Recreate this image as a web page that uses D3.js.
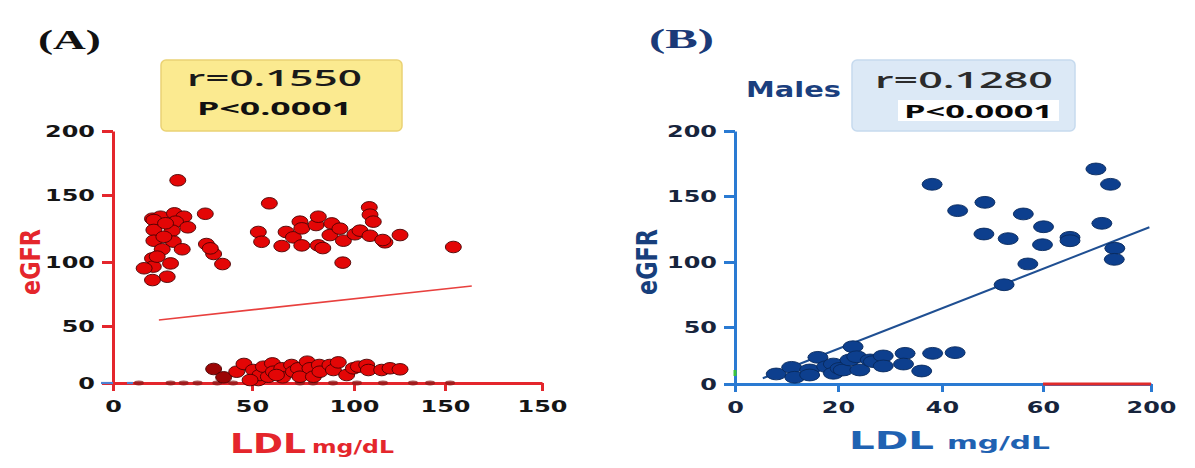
<!DOCTYPE html>
<html>
<head>
<meta charset="utf-8">
<script src="https://cdn.jsdelivr.net/npm/d3@7"></script>
<style>
  html, body { margin: 0; padding: 0; background: #ffffff; }
  svg { display: block; }
</style>
</head>
<body>
<svg id="chart" width="1195" height="468"></svg>
<script>
// ---------- data ----------
// Panel A: all subjects (LDL vs eGFR)
const yTicks = [0, 50, 100, 150, 200];
const yTickLabels = ["0", "50", "100", "150", "200"];

const xTicksA = [0, 50, 100, 150, 200];
const xTickLabelsA = ["0", "50", "100", "150", "150"];

const ldlA = [
  23.3, 14.2, 17.1, 22.1, 25.5, 14.7, 22.5, 26.9, 14.7, 21.3, 14.7, 21.7, 24.9, 17.7,
  14.2, 20.7, 14.5, 11.2, 19.5, 14.2, 18.3, 18.9, 15.9, 33.2, 33.6, 36.2, 39.4, 35.0,
  58.5, 53.1, 54.7, 64.6, 66.7, 70.3, 73.5, 74.4, 74.4, 81.4, 82.5, 82.5, 84.7, 89.1,
  88.2, 93.1, 94.8, 94.5, 100.5, 103.3, 108.4, 108.8, 110.6, 108.8, 117.0, 115.8, 125.3, 154.3
];
const egfrA = [
  161.5, 132.3, 133.8, 136.3, 133.8, 131.3, 130.1, 125.9, 123.9, 123.4, 115.9, 115.2, 109.5, 109.5,
  102.7, 98.9, 96.4, 95.1, 88.5, 85.9, 118.8, 128.9, 104.0, 136.0, 113.4, 106.0, 98.4, 110.2,
  143.8, 122.4, 115.1, 111.9, 122.4, 118.4, 130.1, 125.1, 112.4, 127.6, 133.8, 112.4, 110.4, 128.8,
  120.1, 124.9, 115.9, 99.5, 120.7, 123.4, 140.8, 135.3, 130.1, 119.6, 114.7, 116.4, 120.1, 111.2
];

// low-eGFR group of panel A
const ldlLowA = [
  36.2, 39.8, 44.5, 47.1, 50.7, 53.1, 53.9, 55.6, 58.0, 60.0, 60.5, 64.6, 65.0, 69.4, 70.3,
  72.7, 73.5, 77.1, 78.4, 80.1, 83.0, 83.3, 88.2, 89.9, 92.3, 96.4, 99.7, 102.4, 107.0,
  107.9, 115.2, 119.8, 125.3, 49.3, 62.0
];
const egfrLowA = [
  12.3, 5.0, 9.9, 16.7, 11.4, 2.6, 7.0, 14.3, 5.5, 17.2, 9.9, 12.9, 5.0, 15.8, 9.9,
  12.9, 5.5, 18.7, 12.9, 5.5, 15.8, 9.9, 15.8, 11.4, 18.1, 7.0, 12.9, 14.3, 15.8,
  11.4, 11.4, 12.9, 12.0, 2.6, 7.0
];
const darkLowA = [true, true];   // first two points of the low group are drawn darker

// points sitting on the baseline (eGFR = 0)
const ldlZeroA = [9.3, 20.7, 25.4, 30.4, 37.5, 43.2, 73.5, 79.9, 89.7, 101.6, 115.9, 132.4, 141.8, 152.6];

// fitted line, panel A
const fitA = [{ x: 16.5, y: 54.7 }, { x: 163.8, y: 81.3 }];

// Panel B: males
const xTicksB = [0, 20, 40, 60, 80];
const xTickLabelsB = ["0", "20", "40", "60", "200"];

const ldlB = [
  69.8, 72.5, 38.1, 43.1, 48.5, 56.1, 60.1, 70.9, 48.3, 53.1, 65.0, 65.0, 59.9, 73.3, 73.2, 57.0, 52.3,
  8.0, 11.0, 11.6, 14.5, 14.5, 16.1, 17.8, 19.1, 19.1, 20.4, 21.0, 22.3, 22.9, 23.6, 24.2,
  26.2, 26.8, 28.7, 28.7, 32.9, 32.6, 36.1, 38.2, 42.6
];
const egfrB = [
  170.8, 159.0, 159.0, 138.9, 145.2, 136.4, 126.7, 129.3, 121.2, 117.7, 118.7, 116.1, 113.1, 110.4, 102.0, 98.5, 82.5,
  8.8, 14.6, 5.9, 12.3, 7.9, 23.4, 15.2, 17.5, 9.4, 13.7, 12.3, 21.1, 32.7, 23.9, 12.3,
  21.1, 19.6, 24.6, 15.8, 26.9, 17.5, 11.4, 26.9, 27.5
];

// fitted line, panel B
const fitB = [{ x: 5.4, y: 5.0 }, { x: 79.7, y: 126.3 }];

const statsA = { r: "r=0.1550", p: "P<0.0001" };
const statsB = { r: "r=0.1280", p: "P<0.0001", group: "Males" };

// ---------- drawing ----------
const svg = d3.select("#chart");
const SANS = "'DejaVu Sans', Verdana, sans-serif";
const UI = "'Open Sans', 'Noto Sans', sans-serif";

// text stretched horizontally so that it spans a given width
function fitText(parent, o) {
  const g = parent.append("g").attr("transform", `translate(${o.x},${o.y})`);
  const t = g.append("text")
    .attr("x", 0).attr("y", 0)
    .attr("text-anchor", o.anchor || "start")
    .attr("font-family", o.family || SANS)
    .attr("font-size", o.size)
    .attr("font-weight", o.weight || 700)
    .attr("fill", o.fill || "#111")
    .text(o.text);
  const len = t.node().getComputedTextLength();
  t.attr("transform", `scale(${o.w / len},1)`);
  return t;
}

// vertical (rotated) title: baseline at bx, centred on cy
function vText(parent, o) {
  const g = parent.append("g");
  const t = g.append("text")
    .attr("text-anchor", "middle")
    .attr("font-family", o.family || SANS)
    .attr("font-size", o.size)
    .attr("font-weight", 700)
    .attr("fill", o.fill)
    .text(o.text);
  const len = t.node().getComputedTextLength();
  const sy = o.len / len;
  const sx = o.thick / (0.73 * o.size);
  g.attr("transform", `translate(${o.bx},${o.cy}) scale(${sx},${sy}) rotate(-90)`);
}

function styleAxis(g, color, labelColor, sx, side) {
  g.select(".domain").attr("stroke", color).attr("stroke-width", 3);
  g.selectAll(".tick line").attr("stroke", color).attr("stroke-width", 3);
  g.selectAll(".tick text")
    .attr("font-family", SANS)
    .attr("font-weight", 700)
    .attr("font-size", 16.5)
    .attr("fill", labelColor);
  if (side === "left") {
    g.selectAll(".tick text").attr("x", -18 / sx).attr("dy", "0.36em")
      .attr("transform", `scale(${sx},1)`);
  } else {
    g.selectAll(".tick text").attr("y", 29).attr("dy", 0)
      .attr("transform", `scale(${sx},1)`);
  }
}

function panel(cfg) {
  const g = svg.append("g");

  // statistics box
  g.append("rect")
    .attr("x", cfg.box[0]).attr("y", 60)
    .attr("width", cfg.box[1] - cfg.box[0]).attr("height", 71)
    .attr("rx", 5)
    .attr("fill", cfg.boxFill).attr("stroke", cfg.boxStroke).attr("stroke-width", 1.5);

  // axes
  const yAxis = d3.axisLeft(cfg.y).tickValues(yTicks)
    .tickFormat((d, i) => yTickLabels[i]).tickSize(11).tickSizeOuter(0);
  const xAxis = d3.axisBottom(cfg.x).tickValues(cfg.xTicks)
    .tickFormat((d, i) => cfg.xLabels[i]).tickSize(8).tickSizeOuter(0);

  const gx = g.append("g")
    .attr("transform", `translate(0,${cfg.y(0)})`).call(xAxis);
  styleAxis(gx, cfg.axisColor, cfg.tickColor, 1.45, "bottom");
  const gy = g.append("g")
    .attr("transform", `translate(${cfg.x(0)},0)`).call(yAxis);
  styleAxis(gy, cfg.axisColor, cfg.tickColor, 1.45, "left");

  return g;
}

// ----- Panel A -----
const xA = d3.scaleLinear().domain(xTicksA).range([113, 252, 354, 445, 542]);
const yA = d3.scaleLinear().domain(yTicks).range([383, 326, 262, 195, 131]);

const gA = panel({
  x: xA, y: yA, xTicks: xTicksA, xLabels: xTickLabelsA,
  axisColor: "#e4262c", tickColor: "#151515",
  box: [161, 402], boxFill: "#fbea90", boxStroke: "#ead274"
});

// baseline points
gA.append("g").selectAll("ellipse").data(ldlZeroA).join("ellipse")
  .attr("cx", d => xA(d)).attr("cy", yA(0))
  .attr("rx", 5).attr("ry", 2.4)
  .attr("fill", "#8c1a1a").attr("opacity", 0.75);

// small blue marks at the origin
gA.append("line").attr("x1", 101).attr("x2", 113).attr("y1", yA(0)).attr("y2", yA(0))
  .attr("stroke", "#4d82d2").attr("stroke-width", 2.2);
gA.append("line").attr("x1", 127).attr("x2", 133).attr("y1", yA(0)).attr("y2", yA(0))
  .attr("stroke", "#4d82d2").attr("stroke-width", 2.2);

// fitted line
gA.append("line")
  .attr("x1", xA(fitA[0].x)).attr("y1", yA(fitA[0].y))
  .attr("x2", xA(fitA[1].x)).attr("y2", yA(fitA[1].y))
  .attr("stroke", "#e8403e").attr("stroke-width", 1.6);

// scatter points
const ptsA = ldlA.map((d, i) => ({ x: d, y: egfrA[i], dark: false }))
  .concat(ldlLowA.map((d, i) => ({ x: d, y: egfrLowA[i], dark: !!darkLowA[i] })));
gA.append("g").selectAll("ellipse").data(ptsA).join("ellipse")
  .attr("cx", d => xA(d.x)).attr("cy", d => yA(d.y))
  .attr("rx", 8).attr("ry", 5.8)
  .attr("fill", d => d.dark ? "#9c0505" : "#e30606")
  .attr("stroke", "#4a0202").attr("stroke-width", 0.9);

// texts
fitText(gA, { text: "(A)", x: 38, y: 49, w: 63, size: 28, family: "'Liberation Serif', 'Times New Roman', serif", fill: "#111" });
fitText(gA, { text: statsA.r, x: 187, y: 86, w: 175, size: 21, weight: 600, family: UI, fill: "#1a1a1a" });
fitText(gA, { text: statsA.p, x: 197, y: 115, w: 155, size: 18, weight: 700, family: UI, fill: "#111" });
fitText(gA, { text: "LDL", x: 230, y: 453, w: 76, size: 26, fill: "#e4262c" });
fitText(gA, { text: "mg/dL", x: 312, y: 453, w: 82, size: 17, fill: "#e4262c" });
vText(gA, { text: "eGFR", bx: 40, cy: 262, len: 66, thick: 19, size: 22, fill: "#e4262c" });

// ----- Panel B -----
const xB = d3.scaleLinear().domain(xTicksB).range([735, 838, 942, 1043, 1151]);
const yB = d3.scaleLinear().domain(yTicks).range([384, 327, 262, 196, 131]);

const gB = panel({
  x: xB, y: yB, xTicks: xTicksB, xLabels: xTickLabelsB,
  axisColor: "#2a7ad2", tickColor: "#17243c",
  box: [852, 1075], boxFill: "#dce9f6", boxStroke: "#c6daee"
});

// red segment of the x axis and green mark on the y axis
gB.append("line").attr("x1", xB(60)).attr("x2", xB(80)).attr("y1", yB(0)).attr("y2", yB(0))
  .attr("stroke", "#e02a2a").attr("stroke-width", 3);
gB.append("line").attr("x1", xB(0)).attr("x2", xB(0)).attr("y1", 370).attr("y2", 376)
  .attr("stroke", "#3cc43c").attr("stroke-width", 3);

// fitted line
gB.append("line")
  .attr("x1", xB(fitB[0].x)).attr("y1", yB(fitB[0].y))
  .attr("x2", xB(fitB[1].x)).attr("y2", yB(fitB[1].y))
  .attr("stroke", "#1f4f92").attr("stroke-width", 2);

const ptsB = ldlB.map((d, i) => ({ x: d, y: egfrB[i] }));
gB.append("g").selectAll("ellipse").data(ptsB).join("ellipse")
  .attr("cx", d => xB(d.x)).attr("cy", d => yB(d.y))
  .attr("rx", 10).attr("ry", 5.9)
  .attr("fill", "#0d3f8e").attr("stroke", "#08295c").attr("stroke-width", 0.9);

// white background behind the P value
gB.append("rect").attr("x", 898).attr("y", 100).attr("width", 161).attr("height", 21).attr("fill", "#ffffff");

fitText(gB, { text: "(B)", x: 649, y: 48, w: 65, size: 28, family: "'Liberation Serif', 'Times New Roman', serif", fill: "#1b3a78" });
fitText(gB, { text: statsB.group, x: 746, y: 97, w: 95, size: 22, fill: "#1b3f7e" });
fitText(gB, { text: statsB.r, x: 875, y: 88, w: 178, size: 22, weight: 600, family: UI, fill: "#2b2b2b" });
fitText(gB, { text: statsB.p, x: 904, y: 118, w: 149, size: 17, weight: 700, family: UI, fill: "#0a0a0a" });
fitText(gB, { text: "LDL", x: 849, y: 449, w: 85, size: 24, fill: "#1f62b2" });
fitText(gB, { text: "mg/dL", x: 947, y: 449, w: 103, size: 17, fill: "#1f62b2" });
vText(gB, { text: "eGFR", bx: 657, cy: 262, len: 66, thick: 21, size: 22, fill: "#173f7c" });
</script>
</body>
</html>
